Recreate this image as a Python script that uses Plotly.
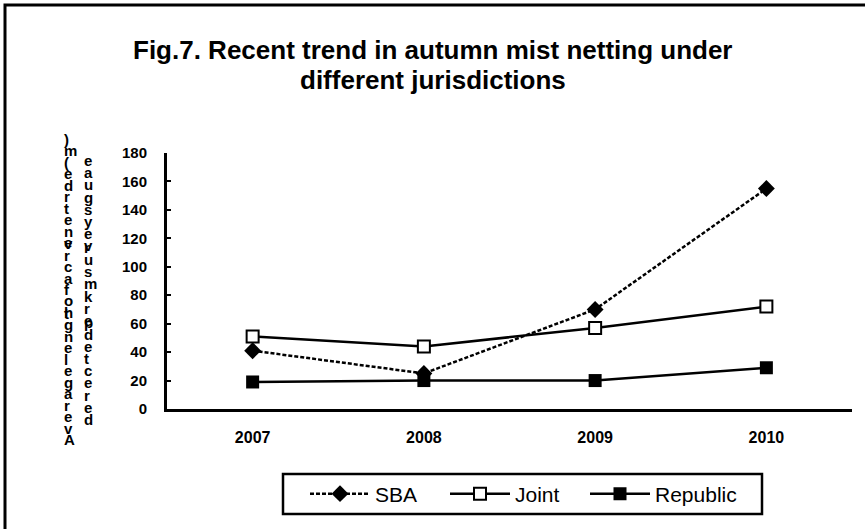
import plotly.graph_objects as go

# ---- data ----
years = ["2007", "2008", "2009", "2010"]
sba = [41, 25, 70, 155]
joint = [51, 44, 57, 72]
republic = [19, 20, 20, 29]
y_ticks = [0, 20, 40, 60, 80, 100, 120, 140, 160, 180]
title_lines = ["Fig.7. Recent trend in autumn mist netting under", "different jurisdictions"]
# y-axis title as it appears (stacked characters, top to bottom)
ytitle_col1 = [")", "m", "(", "e", "d", "r", "t", "e", "n", "e", "v", "r", "c", "a", "f",
               "o", "h", "t", "g", "n", "e", "l", "e", "g", "a", "r", "e", "v", "A"]
ytitle_col2 = ["e", "a", "u", "g", "s", "y", "e", "v", "r", "u", "s", "m", "k", "r", "e",
               "p", "d", "e", "t", "c", "e", "r", "e", "d"]

W, H = 865, 529
L, R, T, B = 167, 13, 153, 120
PW, PH = W - L - R, H - T - B
FONT = "Liberation Sans, Arial, sans-serif"


def px_x(px):
    return (px - L) / PW


def px_y(py):
    return (H - B - py) / PH


fig = go.Figure()
fig.add_trace(go.Scatter(
    x=years, y=sba, name="SBA", mode="lines+markers", legend="legend",
    line=dict(color="black", width=2.5, dash="4px,2px"),
    marker=dict(symbol="diamond", size=13, color="black"),
    cliponaxis=False))
fig.add_trace(go.Scatter(
    x=years, y=joint, name="Joint", mode="lines+markers", legend="legend2",
    line=dict(color="black", width=2.5),
    marker=dict(symbol="square", size=12, color="white", line=dict(color="black", width=2)),
    cliponaxis=False))
fig.add_trace(go.Scatter(
    x=years, y=republic, name="Republic", mode="lines+markers", legend="legend3",
    line=dict(color="black", width=2.5),
    marker=dict(symbol="square", size=13, color="black"),
    cliponaxis=False))

annotations = []
for i, line in enumerate(title_lines):
    annotations.append(dict(x=px_x(W / 2), xref="paper", y=px_y(50 + 30 * i), yref="paper",
                            xanchor="center", yanchor="middle", showarrow=False,
                            text=line,
                            font=dict(family=FONT, size=26, color="black", weight="bold")))

n1 = len(ytitle_col1)
for i, ch in enumerate(ytitle_col1):
    py = 129 + i * (450 - 129) / (n1 - 1)
    annotations.append(dict(x=px_x(62), y=px_y(py), xref="paper", yref="paper",
                            text=ch, showarrow=False,
                            font=dict(family=FONT, size=15, color="black", weight="bold")))
n2 = len(ytitle_col2)
for i, ch in enumerate(ytitle_col2):
    py = 150 + i * (430 - 150) / (n2 - 1)
    annotations.append(dict(x=px_x(82), y=px_y(py), xref="paper", yref="paper",
                            text=ch, showarrow=False,
                            font=dict(family=FONT, size=15, color="black", weight="bold")))

shapes = [
    # outer chart border
    dict(type="rect", xref="paper", yref="paper",
         x0=px_x(5), x1=px_x(875), y0=px_y(540), y1=px_y(5),
         line=dict(color="black", width=3), layer="below"),
    # legend box
    dict(type="rect", xref="paper", yref="paper",
         x0=px_x(283), x1=px_x(762), y0=px_y(514), y1=px_y(474),
         line=dict(color="black", width=2.5)),
]

leg_common = dict(orientation="h", xanchor="left", yanchor="middle", y=px_y(494),
                  bgcolor="rgba(0,0,0,0)", borderwidth=0, itemwidth=60,
                  font=dict(family=FONT, size=21, color="black"))

fig.update_layout(
    width=W, height=H,
    margin=dict(l=L, r=R, t=T, b=B),
    paper_bgcolor="white", plot_bgcolor="white",
    font=dict(family=FONT, color="black"),
    xaxis=dict(type="category", categoryorder="array", categoryarray=years,
               range=[-0.5, 3.5], showline=True, linecolor="black", linewidth=3,
               showgrid=False, zeroline=False, ticks="", ticklabelstandoff=12,
               tickfont=dict(family=FONT, size=16, color="black", weight="bold")),
    yaxis=dict(range=[0, 180], tickvals=y_ticks, showline=True, linecolor="black",
               linewidth=3, showgrid=False, zeroline=False, ticks="inside", ticklen=4,
               tickwidth=2, tickcolor="black", ticklabelstandoff=14,
               tickfont=dict(family=FONT, size=15, color="black", weight="bold")),
    showlegend=True,
    legend=dict(x=px_x(305), **leg_common),
    legend2=dict(x=px_x(445), **leg_common),
    legend3=dict(x=px_x(585), **leg_common),
    annotations=annotations,
    shapes=shapes,
)

fig.write_html("out.html", config={"displayModeBar": False},
               post_script="document.body.style.margin='0';")
